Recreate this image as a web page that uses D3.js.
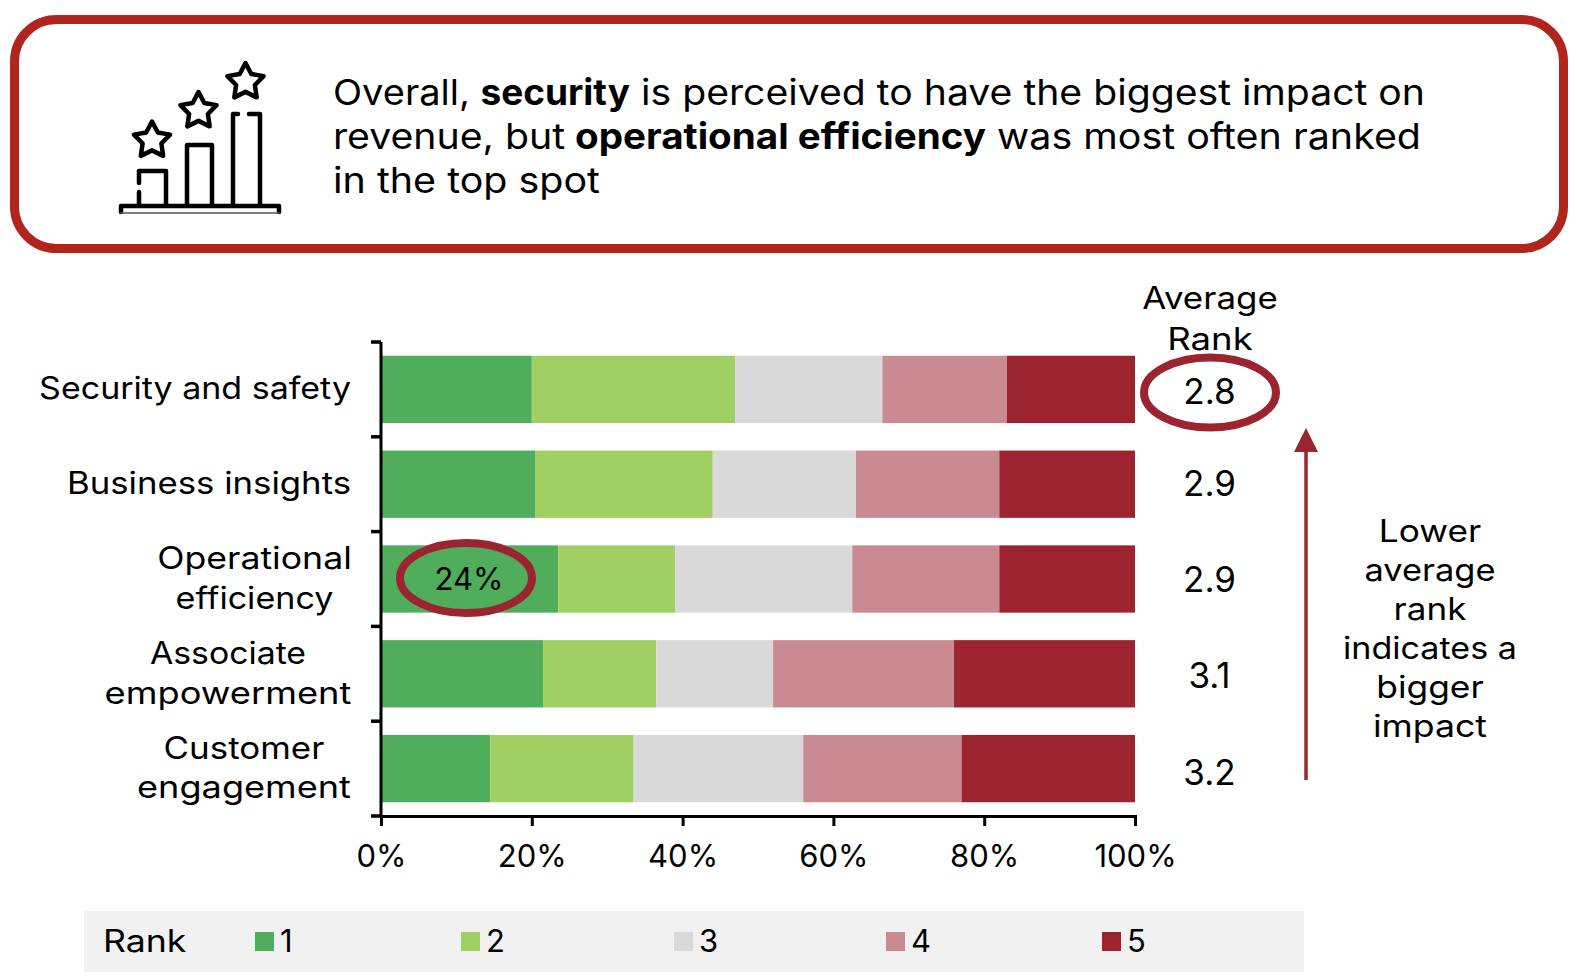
<!DOCTYPE html>
<html><head><meta charset="utf-8">
<script src="https://cdn.jsdelivr.net/npm/d3@7"></script>
<style>html,body{margin:0;padding:0;background:#fff}svg{display:block}text{font-family:Inter,"Open Sans",sans-serif;fill:#000}</style>
</head><body><svg id="c" width="1576" height="980"></svg>
<script>
const categories=[["Security and safety"],["Business insights"],["Operational","efficiency"],["Associate","empowerment"],["Customer","engagement"]];
const rank1=[20,20.5,23.5,21.5,14.5];
const rank2=[27,23.5,15.5,15,19];
const rank3=[19.5,19,23.5,15.5,22.5];
const rank4=[16.5,19,19.5,24,21];
const rank5=[17,18,18,24,23];
const averages=["2.8","2.9","2.9","3.1","3.2"];
const ranks=["1","2","3","4","5"];
const colors=["#4fad5b","#a0d063","#d9d9d9","#c98a92","#9c2430"];
const xTicks=[0,20,40,60,80,100];
const series=[rank1,rank2,rank3,rank4,rank5];
const red="#9c2430",border="#b0261c";
const fs=31;
const svg=d3.select("#c");
const x=d3.scaleLinear().domain([0,100]).range([381,1135]);
const y=d3.scaleBand().domain(d3.range(categories.length)).range([342,816]).paddingInner(0.29).paddingOuter(0.145);
const step=y.step();
// widen a text to imitate the wider face of the original
const widen=(t,k)=>{const w=t.node().getComputedTextLength();t.attr("textLength",w*k).attr("lengthAdjust","spacingAndGlyphs");return t;};
const label=(px,py,str,k,anchor="middle",size=fs)=>widen(svg.append("text").attr("x",px).attr("y",py).attr("text-anchor",anchor).attr("font-size",size).text(str),k);

// callout box
svg.append("rect").attr("x",14.5).attr("y",19.5).attr("width",1549).attr("height",229).attr("rx",42)
 .attr("fill","#fff").attr("stroke",border).attr("stroke-width",9);

// icon
const ic=svg.append("g").attr("fill","none").attr("stroke","#000").attr("stroke-width",4.5).attr("stroke-linecap","round").attr("stroke-linejoin","round");
ic.append("path").attr("d","M121 212V206H279V212");
ic.append("path").attr("d","M121 213H279").attr("stroke-width",1.5).attr("stroke","#555");
ic.append("path").attr("d","M139 204V192M139 183V171H166V204");
ic.append("path").attr("d","M187 204V145H212V204");
ic.append("path").attr("d","M233 204V114H238M249 114H260V204");
const star=(cx,cy,R)=>{const r=R*0.52;const pts=d3.range(10).map(i=>{const a=-Math.PI/2+i*Math.PI/5,q=i%2?r:R;return [cx+q*Math.cos(a),cy+q*Math.sin(a)];});return "M"+pts.map(p=>p.join(",")).join("L")+"Z";};
[[152,140.5],[198.5,111],[245.5,82]].forEach(c=>ic.append("path").attr("d",star(c[0],c[1],19)));

// callout text: each run is fitted between the edges it has in the original
const lines=[
 [["Overall,",0,333,470],["security",1,480.5,630],["is perceived to have the biggest impact on",0,641,1425]],
 [["revenue, but",0,333,565],["operational efficiency",1,575,986],["was most often ranked",0,997,1421]],
 [["in the top spot",0,333,600]]];
lines.forEach((l,i)=>l.forEach(s=>{
 svg.append("text").attr("x",s[2]).attr("y",105+i*44).attr("font-size",35.5).attr("font-weight",s[1]?700:400)
  .attr("textLength",s[3]-s[2]).attr("lengthAdjust","spacingAndGlyphs").text(s[0]);
}));

// bars
series.forEach((vals,s)=>{
 svg.append("g").selectAll("rect").data(vals).join("rect")
  .attr("x",(d,i)=>x(d3.sum(series.slice(0,s),a=>a[i])))
  .attr("width",d=>x(d)-x(0))
  .attr("y",(d,i)=>y(i)).attr("height",y.bandwidth())
  .attr("fill",colors[s]);
});

// axes
const gx=svg.append("g").attr("transform","translate(0,816)").call(d3.axisBottom(x).tickValues(xTicks).tickFormat(d=>d+"%").tickSize(10).tickPadding(19));
gx.select(".domain").attr("stroke","#000").attr("stroke-width",3);
gx.selectAll("line").attr("stroke","#000").attr("stroke-width",3);
gx.selectAll("text").attr("font-size",fs).attr("font-family",null);
const gy=svg.append("g").attr("transform","translate(381,0)");
gy.append("line").attr("y1",342).attr("y2",818).attr("stroke","#000").attr("stroke-width",3);
d3.range(categories.length+1).forEach(i=>gy.append("line").attr("x1",-10).attr("x2",0).attr("y1",342+i*step).attr("y2",342+i*step).attr("stroke","#000").attr("stroke-width",3.5));

// category labels
const catK=[[1.096],[1.12],[1.15,1.10],[1.09,1.17],[1.127,1.165]];
const catMid=[[351],[351],[254.5,254.5],[228,228],[244,244]];
categories.forEach((c,i)=>{
 const cy=y(i)+y.bandwidth()/2-1;
 c.forEach((t,j)=>label(catMid[i][j],cy+11+(j-(c.length-1)/2)*39.5,t,catK[i][j],c.length===1?"end":"middle"));
});

// avg
label(1210,309,"Average",1.127);
label(1210,349.5,"Rank",1.18);
const avgShift=[1,-2,-1,0,2];
averages.forEach((a,i)=>svg.append("text").attr("x",1209.5).attr("y",y(i)+y.bandwidth()/2+14+avgShift[i]).attr("text-anchor","middle").attr("font-size",35).text(a));
svg.append("ellipse").attr("cx",1210).attr("cy",392.5).attr("rx",66).attr("ry",35).attr("fill","none").attr("stroke",red).attr("stroke-width",8);

// 24%
svg.append("text").attr("x",469).attr("y",590).attr("text-anchor","middle").attr("font-size",31).text("24%");
svg.append("ellipse").attr("cx",466).attr("cy",578).attr("rx",66).attr("ry",35).attr("fill","none").attr("stroke",red).attr("stroke-width",8);

// arrow
svg.append("line").attr("x1",1306).attr("x2",1306).attr("y1",452).attr("y2",780).attr("stroke",red).attr("stroke-width",3.5);
svg.append("path").attr("d","M1306 428L1318 452H1294Z").attr("fill",red);
const noteK=[1.136,1.11,1.13,1.10,1.14,1.15];
["Lower","average","rank","indicates a","bigger","impact"].forEach((t,i)=>label(1430,542+i*39,t,noteK[i]));

// legend
svg.append("rect").attr("x",84).attr("y",911).attr("width",1220).attr("height",61).attr("fill","#f1f1f1");
label(103,952,"Rank",1.15,"start");
const lx=d3.scaleOrdinal().domain(ranks).range([255,461,674,886,1102]);
ranks.forEach((r,i)=>{
 svg.append("rect").attr("x",lx(r)).attr("y",932).attr("width",19).attr("height",19).attr("fill",colors[i]);
 svg.append("text").attr("x",lx(r)+25).attr("y",952).attr("font-size",fs).text(r);
});
</script></body></html>
